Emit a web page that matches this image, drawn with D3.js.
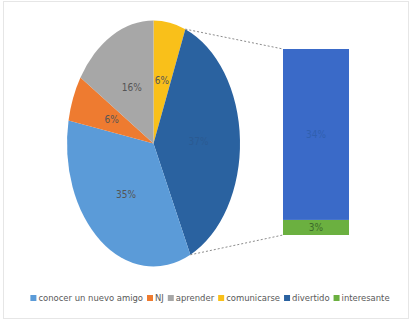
<!DOCTYPE html>
<html>
<head>
<meta charset="utf-8">
<script src="https://cdn.jsdelivr.net/npm/d3@7"></script>
<style>
  body { margin: 0; background: #fff; }
  text { font-family: "DejaVu Sans Condensed", "Liberation Sans Narrow", "Open Sans", sans-serif; }
</style>
</head>
<body>
<div id="chart"></div>
<script>
// pie slices, clockwise from 12 o'clock
const pieNames = ["comunicarse", "otros", "conocer un nuevo amigo", "NJ", "aprender"];
const pieValues = [6, 37, 35, 6, 16];
const pieColors = ["#f9c01a", "#2a62a0", "#5b9bd8", "#ee7b30", "#a7a7a7"];

// secondary bar (breakdown of "otros"), bottom to top
const barNames = ["interesante", "divertido"];
const barValues = [3, 34];
const barColors = ["#6bb040", "#3a6ac8"];

// legend
const legendNames = ["conocer un nuevo amigo", "NJ", "aprender", "comunicarse", "divertido", "interesante"];
const legendColors = ["#5b9bd8", "#ee7b30", "#a7a7a7", "#f9c01a", "#2a62a0", "#6bb040"];

const W = 412, H = 324;
const svg = d3.select("#chart").append("svg")
  .attr("width", W).attr("height", H);

// faint frame
svg.append("rect")
  .attr("x", 3.5).attr("y", 1.5).attr("width", W - 7).attr("height", H - 7)
  .attr("fill", "none").attr("stroke", "#e6e6e6");

// pie (elliptical)
const cx = 153.5, cy = 143.5, rx = 86.5, ry = 123;
const pie = d3.pie().sort(null).value(d => d);
const arcs = pie(pieValues);
const arc = d3.arc().innerRadius(0).outerRadius(ry);

const pg = svg.append("g").attr("transform", "translate(" + cx + "," + cy + ")");
pg.append("g")
  .attr("transform", "scale(" + (rx / ry) + ",1)")
  .selectAll("path")
  .data(arcs)
  .enter()
  .append("path")
    .attr("d", arc)
    .attr("fill", (d, i) => pieColors[i]);

const labelArc = d3.arc().innerRadius(0).outerRadius(ry * 1.04);
pg.selectAll("text.lbl")
  .data(arcs)
  .enter()
  .append("text")
    .attr("class", "lbl")
    .attr("x", d => labelArc.centroid(d)[0] * rx / ry)
    .attr("y", d => labelArc.centroid(d)[1])
    .attr("dy", "0.35em")
    .attr("text-anchor", "middle")
    .attr("font-size", 10)
    .attr("fill", (d, i) => i == 1 ? "#2a5a92" : "#555")
    .text(d => d.data + "%");

// secondary bar
const bx = 283, bw = 66;
const y = d3.scaleLinear().domain([0, d3.sum(barValues)]).range([235, 49]);
let acc = 0;
const stacked = barValues.map(v => { const s = acc; acc += v; return [s, acc]; });

svg.selectAll("rect.bar")
  .data(stacked)
  .enter()
  .append("rect")
    .attr("class", "bar")
    .attr("x", bx)
    .attr("y", d => y(d[1]))
    .attr("width", bw)
    .attr("height", d => y(d[0]) - y(d[1]))
    .attr("fill", (d, i) => barColors[i]);

svg.selectAll("text.blbl")
  .data(stacked)
  .enter()
  .append("text")
    .attr("class", "blbl")
    .attr("x", bx + bw / 2)
    .attr("y", d => (y(d[0]) + y(d[1])) / 2)
    .attr("dy", "0.35em")
    .attr("text-anchor", "middle")
    .attr("font-size", 10)
    .attr("fill", (d, i) => i == 0 ? "#3c6a2a" : "#3060b0")
    .text((d, i) => barValues[i] + "%");

// connector lines from "otros" slice edges to the bar
const other = arcs[1];
function edge(a) {
  return [cx + rx * Math.sin(a), cy - ry * Math.cos(a)];
}
const p1 = edge(other.startAngle), p2 = edge(other.endAngle);
svg.append("line")
  .attr("x1", p1[0]).attr("y1", p1[1]).attr("x2", bx).attr("y2", y(acc))
  .attr("stroke", "#8c8c8c").attr("stroke-dasharray", "2,2");
svg.append("line")
  .attr("x1", p2[0]).attr("y1", p2[1]).attr("x2", bx).attr("y2", y(0))
  .attr("stroke", "#8c8c8c").attr("stroke-dasharray", "2,2");

// legend, font size fitted so the row spans about 360px
const lg = svg.append("g");
function drawLegend(fs) {
  lg.selectAll("*").remove();
  let lx = 0;
  legendNames.forEach((name, i) => {
    lg.append("rect")
      .attr("x", lx).attr("y", -3).attr("width", 6).attr("height", 6)
      .attr("fill", legendColors[i]);
    const t = lg.append("text")
      .attr("x", lx + 8).attr("y", 0).attr("dy", "0.35em")
      .attr("font-size", fs).attr("fill", "#595959")
      .text(name);
    lx += 8 + t.node().getComputedTextLength() + 4;
  });
  return lx - 4;
}
let fs = 10;
let lw = drawLegend(fs);
if (Math.abs(lw - 360) > 4) {
  fs = fs * (360 - 6 * 12) / (lw - 6 * 12);
  lw = drawLegend(fs);
}
lg.attr("transform", "translate(" + (210 - lw / 2) + ",298)");
</script>
</body>
</html>
